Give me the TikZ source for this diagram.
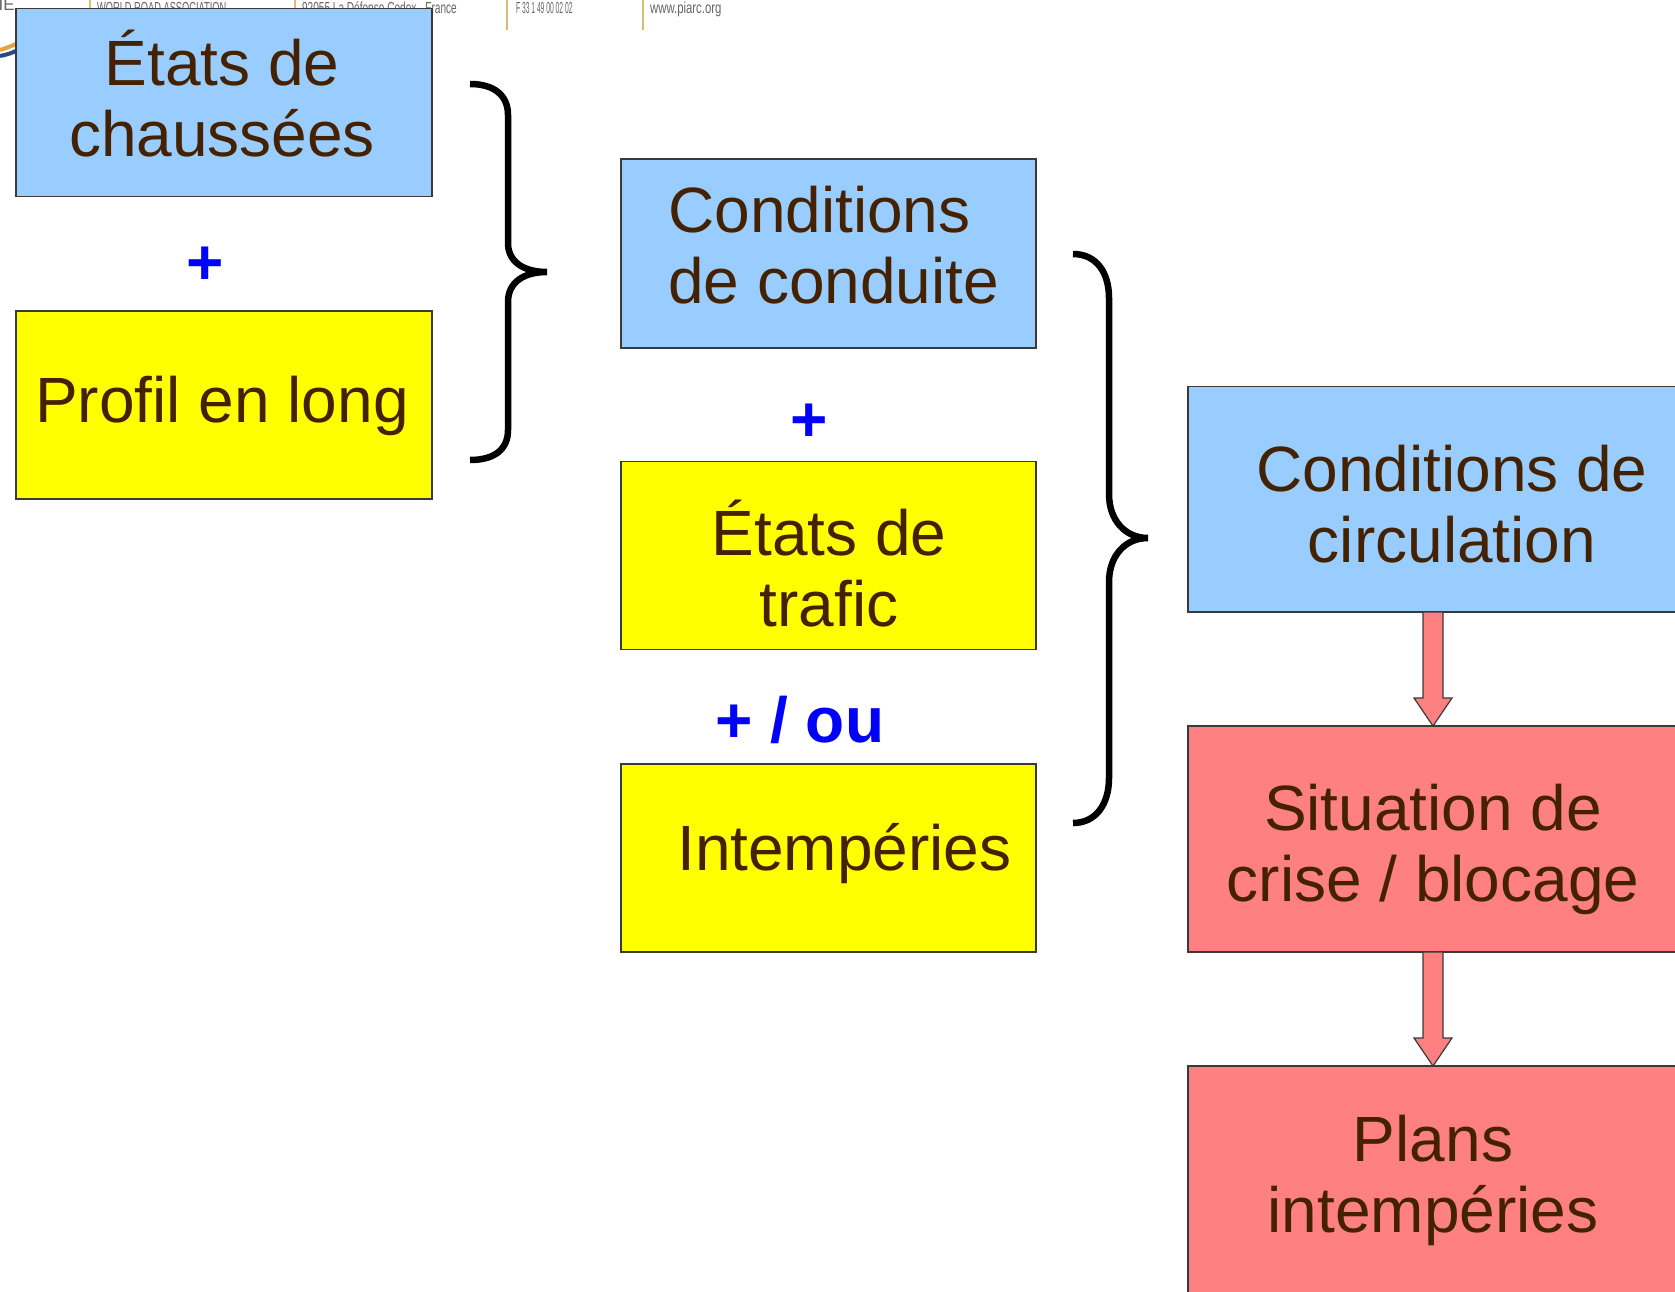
\documentclass[tikz,border=0pt]{standalone}
\usepackage{fontspec}
\setmainfont{Liberation Sans}
\usetikzlibrary{calc}
\definecolor{boxblue}{HTML}{99CCFF}
\definecolor{boxyellow}{HTML}{FFFF00}
\definecolor{boxred}{HTML}{FF8080}
\definecolor{txtbrown}{HTML}{442200}
\definecolor{plusblue}{HTML}{0000FF}
\definecolor{edgegray}{HTML}{3A3A3A}
\definecolor{sepgold}{HTML}{DDBB77}
\definecolor{hdrgray}{HTML}{666666}
\definecolor{logoorange}{HTML}{E8A040}
\definecolor{logoblue}{HTML}{2A4A80}
\begin{document}
\begin{tikzpicture}[x=1pt,y=-1pt,
  box/.style={draw=edgegray,line width=1.5pt,anchor=north west,inner sep=0pt,outer sep=0pt},
  bluebox/.style={box,fill=boxblue},
  yellowbox/.style={box,fill=boxyellow},
  redbox/.style={box,fill=boxred},
  lbl/.style={inner sep=0pt,text=txtbrown,font=\fontsize{64}{71}\selectfont},
  plus/.style={inner sep=0pt,text=plusblue,font=\fontsize{64}{71}\selectfont\bfseries},
  brace/.style={draw=black,line width=6.5pt},
  blockarrow/.style={draw=edgegray,line width=1.2pt,fill=boxred,line join=miter},
  hdr/.style={inner sep=0pt,text=hdrgray,font=\fontsize{16}{18}\selectfont,anchor=base west},
  sep/.style={draw=sepgold,line width=1.8pt}
]
\useasboundingbox (0,0) rectangle (1675,1292);
\clip (0,0) rectangle (1675,1292);
\fill[white] (0,0) rectangle (1675,1292);

% header fragment
\node[inner sep=0pt,text=hdrgray,font=\fontsize{17}{18}\selectfont,anchor=base east] (hdrie) at (15,11) {IE};
\draw[logoorange,line width=4pt] (0,50) .. controls (6,48) and (12,46) .. (18,43);
\draw[logoblue,line width=4pt] (0,56) .. controls (6,55) and (12,53) .. (18,50);
\draw[sep] (90,0) -- (90,30);
\draw[sep] (295,0) -- (295,30);
\draw[sep] (507,0) -- (507,30);
\draw[sep] (643,0) -- (643,30);
\node[hdr,xscale=0.58] (h1) at (97,14) {WORLD ROAD ASSOCIATION};
\node[hdr,xscale=0.63] (h2) at (302,14) {92055 La Défense Cedex - France};
\node[hdr,xscale=0.42] (h3) at (516,14) {F 33 1 49 00 02 02};
\node[hdr,xscale=0.71] (h4) at (650,14) {www.piarc.org};

% boxes
\node[bluebox,minimum width=416pt,minimum height=188pt] (b1) at (16,8.5) {};
\node[yellowbox,minimum width=416pt,minimum height=188pt] (b2) at (16,311) {};
\node[bluebox,minimum width=415pt,minimum height=189pt] (b3) at (621,159) {};
\node[yellowbox,minimum width=415pt,minimum height=188pt] (b4) at (621,461.5) {};
\node[yellowbox,minimum width=415pt,minimum height=188pt] (b5) at (621,764) {};
\node[bluebox,minimum width=520pt,minimum height=225.5pt] (b6) at (1188,386.5) {};
\node[redbox,minimum width=520pt,minimum height=226pt] (b7) at (1188,726) {};
\node[redbox,minimum width=520pt,minimum height=240pt] (b8) at (1188,1066) {};

% texts
\node[lbl,anchor=base] (t1a) at (222,86) {États de};
\node[lbl,anchor=base] (t1b) at (222,157) {chaussées};
\node[lbl,anchor=base] (t2) at (222,422) {Profil en long};
\node[lbl,anchor=base west] (t3a) at (668,232) {Conditions};
\node[lbl,anchor=base west] (t3b) at (668,303) {de conduite};
\node[lbl,anchor=base] (t4a) at (829,555) {États de};
\node[lbl,anchor=base] (t4b) at (829,626) {trafic};
\node[lbl,anchor=base west] (t5) at (677,870) {Intempéries};
\node[lbl,anchor=base] (t6a) at (1452,491) {Conditions de};
\node[lbl,anchor=base] (t6b) at (1452,562) {circulation};
\node[lbl,anchor=base] (t7a) at (1433,830) {Situation de};
\node[lbl,anchor=base] (t7b) at (1433,901) {crise / blocage};
\node[lbl,anchor=base] (t8a) at (1433,1161) {Plans};
\node[lbl,anchor=base] (t8b) at (1433,1232) {intempéries};

% plus signs
\node[plus] (p1) at (205,265.5) {+};
\node[plus] (p2) at (809,423) {+};
\node[plus,anchor=base west] (p3) at (715,742) {+ / ou};

% braces
\draw[brace] (470,84) .. controls (495,84) and (508,96) .. (508,115)
  -- (508,243) .. controls (508,262) and (524,272) .. (547,272)
  .. controls (524,272) and (508,282) .. (508,302)
  -- (508,430) .. controls (508,449) and (495,460) .. (470,460);
\draw[brace] (1073,254) .. controls (1096,254) and (1109,272) .. (1109,298)
  -- (1109,494) .. controls (1109,520) and (1125,538) .. (1148,538)
  .. controls (1125,538) and (1109,556) .. (1109,582)
  -- (1109,778) .. controls (1109,804) and (1096,823) .. (1073,823);

% block arrows
\coordinate (a1s) at (b6.south -| 1433,0);
\coordinate (a1e) at (b7.north -| 1433,0);
\coordinate (a2s) at (b7.south -| 1433,0);
\coordinate (a2e) at (b8.north -| 1433,0);
\draw[blockarrow] ($(a1s)+(-10,0)$) -- ($(a1e)+(-10,-28)$) -- ($(a1e)+(-19,-28)$) -- (a1e)
  -- ($(a1e)+(19,-28)$) -- ($(a1e)+(10,-28)$) -- ($(a1s)+(10,0)$) -- cycle;
\draw[blockarrow] ($(a2s)+(-10,0)$) -- ($(a2e)+(-10,-28)$) -- ($(a2e)+(-19,-28)$) -- (a2e)
  -- ($(a2e)+(19,-28)$) -- ($(a2e)+(10,-28)$) -- ($(a2s)+(10,0)$) -- cycle;
\end{tikzpicture}
\end{document}
